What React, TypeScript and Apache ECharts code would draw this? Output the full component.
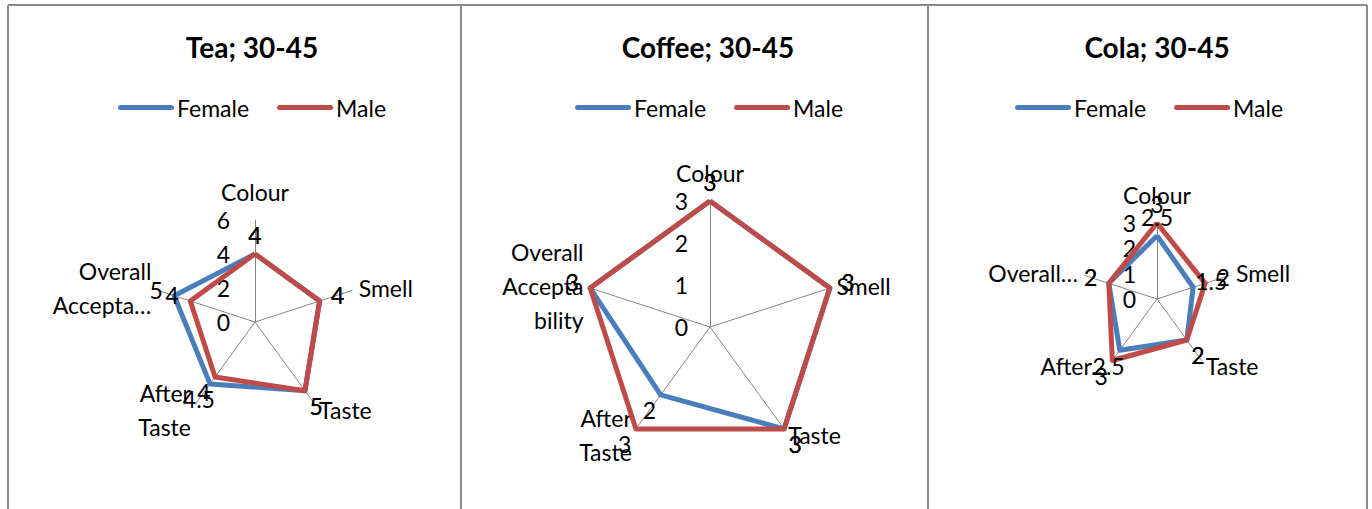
import React, { useEffect, useRef } from "react";
import * as echarts from "echarts";

// ---------- data ----------
const criteria = ["Colour", "Smell", "Taste", "After Taste", "Overall Acceptability"];
const seriesNames = ["Female", "Male"];

const teaTitle = "Tea; 30-45";
const teaLabels = ["Colour", "Smell", "Taste", "After\nTaste", "Overall\nAccepta…"];
const teaMax = 6;
const teaFemale = [4, 4, 5, 4.5, 5];
const teaMale = [4, 4, 5, 4, 4];

const coffeeTitle = "Coffee; 30-45";
const coffeeLabels = ["Colour", "Smell", "Taste", "After\nTaste", "Overall\nAccepta\nbility"];
const coffeeMax = 3;
const coffeeFemale = [3, 3, 3, 2, 3];
const coffeeMale = [3, 3, 3, 3, 3];

const colaTitle = "Cola; 30-45";
const colaLabels = ["Colour", "Smell", "Taste", "After…", "Overall…"];
const colaMax = 3;
const colaFemale = [2.5, 1.5, 2, 2.5, 2];
const colaMale = [3, 2, 2, 3, 2];

// ---------- styling / layout ----------
const FONT = "Lato, 'Open Sans', sans-serif";
const FS = 23;
const BLUE = "#4A7EBB";
const RED = "#BE4B48";
const GRID = "#868686";
const BORDER = "#8C8C8C";
const colors = [BLUE, RED];

// clockwise order (ECharts radar runs counter-clockwise): Colour, Overall, After, Taste, Smell
const order = [0, 4, 3, 2, 1];

const panels = [
  { title: teaTitle, labels: teaLabels, max: teaMax, split: 3, values: [teaFemale, teaMale], center: [255, 322], radius: 102, titleX: 252, legendX: 118, labelMargin: 25 },
  { title: coffeeTitle, labels: coffeeLabels, max: coffeeMax, split: 3, values: [coffeeFemale, coffeeMale], center: [710, 327], radius: 126, titleX: 708, legendX: 575, labelMargin: 22 },
  { title: colaTitle, labels: colaLabels, max: colaMax, split: 3, values: [colaFemale, colaMale], center: [1157, 299], radius: 76, titleX: 1157, legendX: 1015, labelMargin: 21 },
];

export default function App() {
  const ref = useRef<HTMLDivElement>(null);

  useEffect(() => {
    if (!ref.current) return;
    const chart = echarts.init(ref.current, undefined, { renderer: "svg" });

    const LABEL_OFFSET = 19;

    const radar = panels.map((p) => ({
      center: p.center,
      radius: p.radius,
      startAngle: 90,
      shape: "polygon",
      splitNumber: p.split,
      indicator: order.map((i, k) => ({
        name: p.labels[i],
        min: 0,
        max: p.max,
        ...(k === 0 ? { axisLabel: { show: true, margin: p.labelMargin } } : {}),
      })),
      axisName: { color: "#000", fontSize: FS, fontFamily: FONT, lineHeight: 34 },
      nameGap: 7,
      axisLine: { show: true, lineStyle: { color: GRID, width: 1 } },
      axisTick: { show: false },
      axisLabel: { show: false, color: "#000", fontSize: FS, fontFamily: FONT },
      splitLine: { show: false },
      splitArea: { show: false },
    }));

    const series = panels.map((p, idx) => ({
      type: "radar",
      radarIndex: idx,
      symbol: "circle",
      symbolSize: 2,
      label: { show: true, color: "#000", fontSize: FS, fontFamily: FONT, position: "inside" },
      labelLayout: (prm: any) => {
        const r = prm.rect;
        const px = r.x + r.width / 2;
        const py = r.y + r.height / 2;
        const c = panels[prm.seriesIndex].center;
        const dx = px - c[0];
        const dy = py - c[1];
        const len = Math.hypot(dx, dy) || 1;
        return {
          x: px + (dx / len) * LABEL_OFFSET,
          y: py + (dy / len) * LABEL_OFFSET,
          align: "center",
          verticalAlign: "middle",
        };
      },
      data: p.values.map((vals, s) => ({
        name: seriesNames[s],
        value: order.map((i) => vals[i]),
        lineStyle: { color: colors[s], width: 5 },
        itemStyle: { color: colors[s] },
      })),
    }));

    const legend = panels.map((p) => ({
      data: seriesNames,
      left: p.legendX,
      top: 96,
      padding: 0,
      orient: "horizontal",
      itemWidth: 56,
      itemHeight: 5,
      itemGap: 28,
      icon: "path://M2.5,0H53.5A2.5,2.5,0,0,1,53.5,5H2.5A2.5,2.5,0,0,1,2.5,0Z",
      textStyle: { color: "#000", fontSize: FS, fontFamily: FONT, padding: [0, 0, 0, -2] },
      selectedMode: false,
    }));

    const graphic: any[] = [
      { type: "line", shape: { x1: 8, y1: 5, x2: 1367, y2: 5 }, style: { stroke: BORDER, lineWidth: 2 } },
      { type: "line", shape: { x1: 8, y1: 5, x2: 8, y2: 509 }, style: { stroke: BORDER, lineWidth: 2 } },
      { type: "line", shape: { x1: 461, y1: 5, x2: 461, y2: 509 }, style: { stroke: BORDER, lineWidth: 2 } },
      { type: "line", shape: { x1: 928, y1: 5, x2: 928, y2: 509 }, style: { stroke: BORDER, lineWidth: 2 } },
      { type: "line", shape: { x1: 1367, y1: 5, x2: 1367, y2: 509 }, style: { stroke: BORDER, lineWidth: 2 } },
      ...panels.map((p) => ({
        type: "text",
        x: p.titleX,
        y: 47,
        style: {
          text: p.title,
          fill: "#000",
          font: `bold 28px ${FONT}`,
          textAlign: "center",
          textVerticalAlign: "middle",
        },
      })),
    ];

    chart.setOption({
      animation: false,
      backgroundColor: "#fff",
      radar,
      legend,
      series,
      graphic,
    } as any);

    return () => chart.dispose();
  }, []);

  return (
    <div
      ref={ref}
      style={{ position: "fixed", left: 0, top: 0, width: 1372, height: 509 }}
    />
  );
}
